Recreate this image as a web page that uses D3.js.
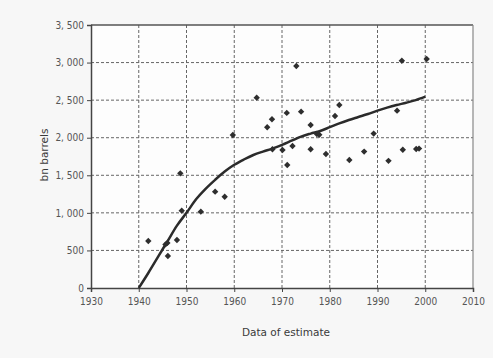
<!DOCTYPE html>
<html>
<head>
<meta charset="utf-8">
<script src="https://cdn.jsdelivr.net/npm/d3@7"></script>
<style>
  body { margin: 0; background: #f7f7f7; }
  svg { display: block; }
  .tick text { font-family: "Liberation Sans Narrow", "DejaVu Sans Condensed", sans-serif; font-size: 10px; fill: #555; }
  .label { font-family: "DejaVu Sans", sans-serif; font-size: 10.5px; fill: #3a3a3a; }
</style>
</head>
<body>
<svg id="chart" width="493" height="358"></svg>
<script>
// estimates (year, bn barrels)
const estYears = [1942, 1945.6, 1946, 1946.1, 1948, 1948.7, 1949, 1953, 1956, 1958, 1959.7,
  1964.7, 1966.9, 1967.9, 1968, 1970.1, 1971, 1971.1, 1972.2, 1973, 1974, 1976, 1976,
  1977.3, 1977.8, 1979.2, 1981.1, 1982, 1984.1, 1987.2, 1989.2, 1992.3, 1994.1, 1995.1,
  1995.3, 1998.1, 1998.7, 2000.3]
const estValues = [625, 580, 600, 426, 639, 1526, 1029, 1016, 1282, 1215, 2036,
  2533, 2139, 2245, 1846, 1837, 2330, 1637, 1890, 2954, 2347, 2169, 1846,
  2050, 2040, 1783, 2289, 2435, 1703, 1815, 2055, 1692, 2360, 3025,
  1840, 1850, 1855, 3048]

// fitted curve
const curveYears = [1940, 1942, 1944, 1946, 1948, 1950, 1952, 1954, 1956, 1958, 1960,
  1962, 1964, 1966, 1968, 1970, 1972, 1974, 1976, 1978, 1980, 1982, 1984, 1986, 1988,
  1990, 1992, 1994, 1996, 1998, 2000]
const curveValues = [0, 200, 410, 620, 830, 1000, 1180, 1320, 1440, 1550, 1640,
  1710, 1770, 1815, 1855, 1905, 1960, 2015, 2055, 2090, 2140, 2190, 2235, 2275, 2315,
  2360, 2400, 2435, 2465, 2500, 2546]

const xTicks = [1930, 1940, 1950, 1960, 1970, 1980, 1990, 2000, 2010]
const yTicks = [0, 500, 1000, 1500, 2000, 2500, 3000, 3500]

const svg = d3.select('#chart')
const pLeft = 91, pRight = 473, pTop = 25, pBottom = 288

svg.append('rect')
  .attr('x', pLeft).attr('y', pTop)
  .attr('width', pRight - pLeft).attr('height', pBottom - pTop)
  .attr('fill', '#fdfdfd')

const x = d3.scaleLinear().domain([1930, 2010]).range([pLeft, pRight])
const y = d3.scaleLinear().domain([0, 3500]).range([pBottom, pTop])

const fmt = d => d3.format(',')(d).replace(',', ', ')

// grid
svg.append('g')
  .selectAll('line')
  .data(xTicks.slice(1, -1))
  .join('line')
  .attr('x1', d => x(d)).attr('x2', d => x(d))
  .attr('y1', pTop).attr('y2', pBottom)
  .attr('stroke', '#666').attr('stroke-width', 1)
  .attr('stroke-dasharray', '3,2')

svg.append('g')
  .selectAll('line')
  .data(yTicks.slice(1, -1))
  .join('line')
  .attr('x1', pLeft).attr('x2', pRight)
  .attr('y1', d => y(d)).attr('y2', d => y(d))
  .attr('stroke', '#666').attr('stroke-width', 1)
  .attr('stroke-dasharray', '3,2')

// frame
svg.append('line').attr('x1', pLeft).attr('x2', pRight).attr('y1', pTop).attr('y2', pTop)
  .attr('stroke', '#555').attr('stroke-width', 1.5)
svg.append('line').attr('x1', pRight).attr('x2', pRight).attr('y1', pTop).attr('y2', pBottom)
  .attr('stroke', '#888').attr('stroke-width', 1.2)

// axes
svg.append('g')
  .attr('transform', `translate(0,${pBottom})`)
  .call(d3.axisBottom(x).tickValues(xTicks).tickFormat(d3.format('d')).tickSize(4).tickPadding(6))
  .call(g => g.select('.domain').attr('stroke', '#444').attr('stroke-width', 1.5))
  .call(g => g.selectAll('.tick line').attr('stroke', '#444'))

svg.append('g')
  .attr('transform', `translate(${pLeft},0)`)
  .call(d3.axisLeft(y).tickValues(yTicks).tickFormat(fmt).tickSize(4).tickPadding(3))
  .call(g => g.select('.domain').attr('stroke', '#444').attr('stroke-width', 1.5))
  .call(g => g.selectAll('.tick line').attr('stroke', '#444'))

// fitted line
const line = d3.line()
  .x((d, i) => x(curveYears[i]))
  .y(d => y(d))
  .curve(d3.curveMonotoneX)

svg.append('path')
  .datum(curveValues)
  .attr('d', line)
  .attr('fill', 'none')
  .attr('stroke', '#2b2b2b')
  .attr('stroke-width', 2.5)

// estimate points
svg.append('g')
  .selectAll('path')
  .data(estValues)
  .join('path')
  .attr('d', d3.symbol(d3.symbolDiamond2, 26))
  .attr('transform', (d, i) => `translate(${x(estYears[i])},${y(d)})`)
  .attr('fill', '#2e2e2e')

// axis titles
svg.append('text')
  .attr('class', 'label')
  .attr('transform', 'translate(48,155) rotate(-90)')
  .attr('text-anchor', 'middle')
  .text('bn barrels')

svg.append('text')
  .attr('class', 'label')
  .attr('x', 286).attr('y', 336)
  .attr('text-anchor', 'middle')
  .text('Data of estimate')
</script>
</body>
</html>
